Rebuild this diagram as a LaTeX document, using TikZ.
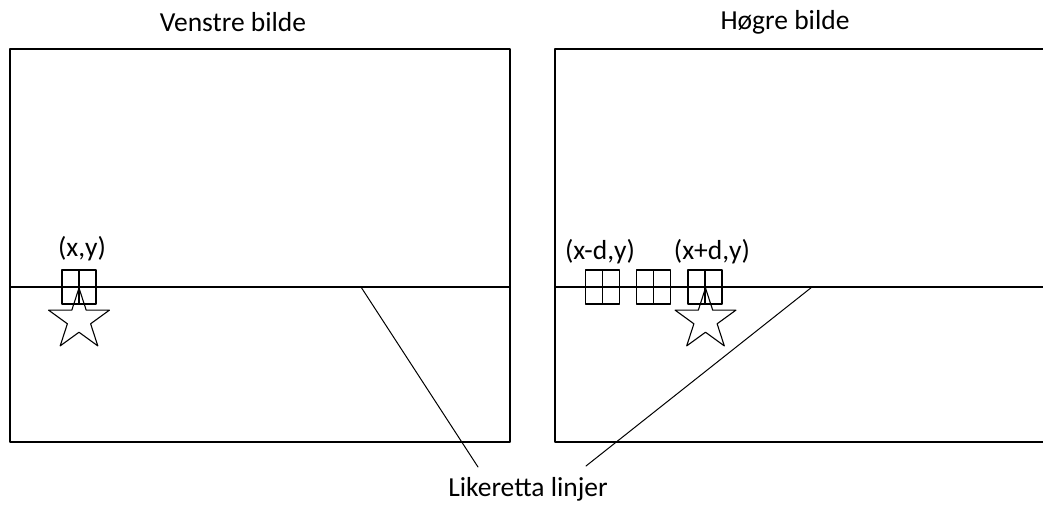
\documentclass[tikz,border=0pt]{standalone}
\usepackage{fontspec}
\setmainfont{Carlito}
\usetikzlibrary{shapes.geometric}
\begin{document}
\begin{tikzpicture}[x=1pt, y=-1pt, font=\fontsize{27.5}{32}\selectfont, line join=round, line cap=round,
		frame/.style={line width=1.4pt},
		ray/.style={line width=1pt},
		cell/.style={line width=1.2pt},
		pstar/.style={star, star points=5, star point ratio=2.618, minimum size=64pt, inner sep=0pt, draw, line width=1.1pt}]
		\useasboundingbox (0,0) rectangle (1043,504);
		\def\ytop{49} \def\ybot{442} \def\yline{287}
		% left picture
		\node (titleL) at (233,22) {Venstre bilde};
		\draw[frame] (10,\ytop) rectangle (510,\ybot);
		\draw[frame] (10,\yline) -- (510,\yline);
		% right picture (runs off the edge)
		\node (titleR) at (785,22) {Høgre bilde};
		\draw[frame] (1045,\ytop) -- (555,\ytop) -- (555,\ybot) -- (1045,\ybot);
		\draw[frame] (555,\yline) -- (1045,\yline);
		% windows
		\foreach \c in {79,602.5,653.5,705} {
			\draw[cell] (\c-17,270) rectangle (\c+17,304) (\c,270) -- (\c,304);
		}
		\node[pstar] (starL) at (79,320) {};
		\node[pstar] (starR) at (705.5,320) {};
		\draw[cell] (starL.north) -- (79,304);
		\draw[cell] (starR.north) -- (705,304);
		\node (pL) at (82,249) {(x,y)};
		\node (pM) at (600,252) {(x-d,y)};
		\node (pP) at (712,252) {(x+d,y)};
		% epipolar lines
		\coordinate (aL) at (361,\yline);
		\coordinate (aR) at (812,\yline);
		\coordinate (eL) at (478,467);
		\coordinate (eR) at (586,466);
		\node (lbl) at (528,489) {Likeretta linjer};
		\draw[ray] (aL) -- (eL);
		\draw[ray] (aR) -- (eR);
	\end{tikzpicture}
\end{document}
